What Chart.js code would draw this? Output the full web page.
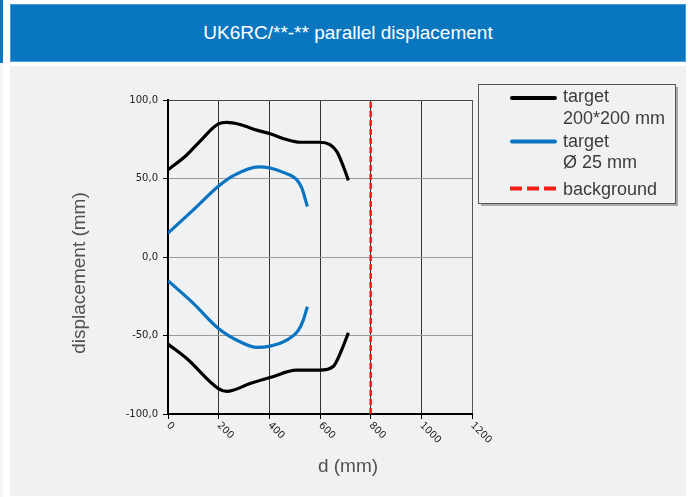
<!DOCTYPE html>
<html><head><meta charset="utf-8">
<script src="https://cdn.jsdelivr.net/npm/chart.js@4"></script>
<style>
html,body{margin:0;padding:0;background:#fff;}
#wrap{position:relative;width:688px;height:497px;overflow:hidden;background:#fff;}
#bar{position:absolute;left:0;top:0;width:3px;height:63px;background:#0a77c1;}
#bar2{position:absolute;left:0;top:63px;width:3px;height:434px;background:#f3f3f3;}
#panel{position:absolute;left:10px;top:66px;width:676px;height:430px;background:#f0f1f3;}
#head{position:absolute;left:10px;top:4px;width:674px;height:56px;background:#0877c0;border:1px solid #4a9ad6;color:#fff;font:19px "Liberation Sans",Arial,sans-serif;display:flex;align-items:center;justify-content:center;}
canvas{position:absolute;left:0;top:0;}
</style></head>
<body>
<div id="wrap">
<div id="bar"></div><div id="bar2"></div>
<div id="panel"></div>
<div id="head">UK6RC/**-** parallel displacement</div>
<canvas id="c" width="688" height="497"></canvas>
</div>
<script>
const xTicks = [0, 200, 400, 600, 800, 1000, 1200];
const yTicks = [-100, -50, 0, 50, 100];
const blackUpperX = [0, 74, 126, 199, 232, 284, 350, 403, 468, 521, 600, 639, 666, 692, 712];
const blackUpperY = [55.5, 65, 73.7, 84.8, 85.7, 84.4, 80.8, 78.5, 74.8, 73.1, 73.1, 71.6, 67.3, 57.8, 48.8];
const blackLowerX = [0, 74, 199, 232, 324, 403, 508, 600, 653, 685, 712];
const blackLowerY = [-55.5, -64.7, -83.8, -85.6, -80.6, -76.8, -72.1, -72.1, -69.6, -59.4, -48.3];
const blueUpperX = [0, 100, 199, 258, 357, 403, 455, 508, 528, 550];
const blueUpperY = [15.2, 30, 45, 51.8, 57.4, 56.7, 53.9, 49.3, 44, 32.2];
const blueLowerX = [0, 100, 199, 284, 350, 403, 468, 515, 534, 550];
const blueLowerY = [-15.1, -29.5, -45.5, -54, -57.6, -56.8, -53, -46.6, -40.2, -31.7];
const backgroundX = [800, 800];
const backgroundY = [-100, 100];
const legendLabels = [['target', '200*200 mm'], ['target', 'Ø 25 mm'], ['background']];
const xTitle = 'd (mm)';
const yTitle = 'displacement (mm)';

const pts = (xs, ys) => xs.map((x, i) => ({x: x, y: ys[i]}));
const BLACK = '#000000', BLUE = '#0a74c2', RED = '#f51c16';

const custom = {
  id: 'custom',
  afterDraw(chart) {
    const ctx = chart.ctx;
    const xs = chart.scales.x;
    ctx.save();
    ctx.font = '10px "DejaVu Sans", Verdana, sans-serif';
    ctx.fillStyle = '#222';
    ctx.textAlign = 'left';
    ctx.textBaseline = 'middle';
    xTicks.forEach(v => {
      const px = xs.getPixelForValue(v);
      ctx.save();
      ctx.translate(px, 424);
      ctx.rotate(Math.PI / 4);
      ctx.fillText(String(v), 0, 0);
      ctx.restore();
    });
    ctx.fillStyle = '#505050';
    ctx.font = '19px "Liberation Sans", Arial, sans-serif';
    ctx.textAlign = 'center';
    ctx.textBaseline = 'middle';
    ctx.fillText(xTitle, 348, 467);
    ctx.save();
    ctx.translate(80, 273);
    ctx.rotate(-Math.PI / 2);
    ctx.fillText(yTitle, 0, 0);
    ctx.restore();
    ctx.strokeStyle = '#a8a8a8';
    ctx.lineWidth = 2;
    ctx.beginPath();
    ctx.moveTo(677, 87); ctx.lineTo(677, 205); ctx.lineTo(481, 205);
    ctx.stroke();
    ctx.strokeStyle = '#555';
    ctx.lineWidth = 1;
    ctx.strokeRect(478.5, 84.5, 197, 119);
    const entries = [
      {color: BLACK, dash: [], ys: [102.3, 124.3], ly: 98},
      {color: BLUE, dash: [], ys: [146.7, 168.3], ly: 141.5},
      {color: RED, dash: [12, 5], ys: [195], ly: 188.5}
    ];
    ctx.font = '18px "Liberation Sans", Arial, sans-serif';
    ctx.textAlign = 'left';
    ctx.textBaseline = 'alphabetic';
    entries.forEach((e, i) => {
      ctx.strokeStyle = e.color;
      ctx.lineWidth = 4;
      ctx.lineCap = e.dash.length ? 'butt' : 'round';
      ctx.setLineDash(e.dash);
      ctx.beginPath();
      ctx.moveTo(e.dash.length ? 510 : 512, e.ly);
      ctx.lineTo(e.dash.length ? 557 : 555, e.ly);
      ctx.stroke();
      ctx.setLineDash([]);
      ctx.fillStyle = '#3c3c3c';
      legendLabels[i].forEach((t, j) => ctx.fillText(t, 563, e.ys[j]));
    });
    ctx.restore();
  }
};

new Chart(document.getElementById('c').getContext('2d'), {
  type: 'scatter',
  data: {
    datasets: [
      {label: 'background', data: pts(backgroundX, backgroundY), borderColor: RED, borderWidth: 2.5, borderDash: [6, 3], showLine: true, pointRadius: 0, tension: 0},
      {label: 'target 200*200 mm', data: pts(blackUpperX, blackUpperY), borderColor: BLACK, borderWidth: 3.2, showLine: true, pointRadius: 0, cubicInterpolationMode: 'monotone'},
      {label: 'target 200*200 mm (lower)', data: pts(blackLowerX, blackLowerY), borderColor: BLACK, borderWidth: 3.2, showLine: true, pointRadius: 0, cubicInterpolationMode: 'monotone'},
      {label: 'target Ø 25 mm', data: pts(blueUpperX, blueUpperY), borderColor: BLUE, borderWidth: 3.2, showLine: true, pointRadius: 0, cubicInterpolationMode: 'monotone'},
      {label: 'target Ø 25 mm (lower)', data: pts(blueLowerX, blueLowerY), borderColor: BLUE, borderWidth: 3.2, showLine: true, pointRadius: 0, cubicInterpolationMode: 'monotone'}
    ]
  },
  options: {
    responsive: false,
    animation: false,
    devicePixelRatio: 1,
    layout: {padding: {top: 100, right: 216, bottom: 0, left: 0}},
    plugins: {legend: {display: false}, tooltip: {enabled: false}, title: {display: false}},
    scales: {
      x: {
        type: 'linear', min: xTicks[0], max: xTicks[xTicks.length - 1],
        afterFit(s) { s.height = 83; },
        afterBuildTicks(s) { s.ticks = xTicks.map(v => ({value: v})); },
        ticks: {display: false},
        grid: {color: c => (c.tick && c.tick.value === 1200) ? '#555' : '#333', lineWidth: 1, tickLength: 5, tickColor: '#000'},
        border: {color: '#000', width: 2}
      },
      y: {
        type: 'linear', min: yTicks[0], max: yTicks[yTicks.length - 1],
        afterFit(s) { s.width = 168; },
        afterBuildTicks(s) { s.ticks = yTicks.map(v => ({value: v})); },
        ticks: {font: {family: '"DejaVu Sans", Verdana, sans-serif', size: 10}, color: '#222', padding: 5,
                callback: v => v.toFixed(1).replace('.', ',')},
        grid: {color: c => (c.tick && c.tick.value === 100) ? '#444' : '#9a9a9a', lineWidth: 1, tickLength: 5, tickColor: '#000'},
        border: {color: '#000', width: 2}
      }
    }
  },
  plugins: [custom]
});
</script>
</body></html>
